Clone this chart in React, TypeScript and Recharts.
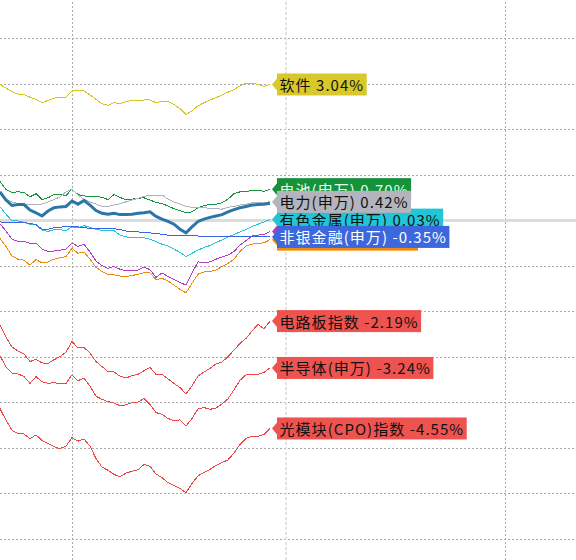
import { LineChart, Line, XAxis, YAxis, ReferenceLine } from 'recharts';

// intraday % change, one point every ~2 min (left part of the session cut off)
const software = [3.00, 2.92, 2.84, 2.79, 2.78, 2.72, 2.67, 2.60, 2.65, 2.70, 2.72, 2.72, 2.86, 2.87, 2.86, 2.77, 2.67, 2.58, 2.54, 2.60, 2.58, 2.62, 2.65, 2.64, 2.66, 2.66, 2.60, 2.63, 2.63, 2.56, 2.47, 2.34, 2.42, 2.53, 2.60, 2.66, 2.71, 2.77, 2.83, 2.89, 2.97, 3.03, 3.03, 3.00, 2.96, 3.00];
const battery = [0.87, 0.69, 0.63, 0.64, 0.63, 0.53, 0.60, 0.47, 0.51, 0.58, 0.58, 0.56, 0.70, 0.58, 0.55, 0.54, 0.54, 0.52, 0.47, 0.58, 0.52, 0.46, 0.48, 0.50, 0.51, 0.46, 0.41, 0.38, 0.33, 0.27, 0.23, 0.18, 0.20, 0.29, 0.34, 0.36, 0.37, 0.40, 0.48, 0.60, 0.64, 0.65, 0.67, 0.68, 0.65, 0.70];
const power = [0.59, 0.48, 0.42, 0.38, 0.37, 0.37, 0.37, 0.37, 0.42, 0.47, 0.53, 0.64, 0.70, 0.57, 0.48, 0.42, 0.37, 0.32, 0.32, 0.35, 0.38, 0.42, 0.46, 0.50, 0.54, 0.57, 0.57, 0.57, 0.48, 0.42, 0.37, 0.32, 0.30, 0.30, 0.29, 0.28, 0.27, 0.26, 0.30, 0.32, 0.35, 0.37, 0.40, 0.41, 0.41, 0.42];
const benchmark = [0.64, 0.46, 0.34, 0.36, 0.36, 0.24, 0.18, 0.11, 0.22, 0.29, 0.31, 0.32, 0.44, 0.37, 0.45, 0.35, 0.23, 0.17, 0.15, 0.17, 0.14, 0.14, 0.15, 0.17, 0.18, 0.20, 0.10, 0.04, -0.01, -0.07, -0.18, -0.26, -0.13, -0.01, 0.04, 0.08, 0.11, 0.14, 0.20, 0.25, 0.29, 0.32, 0.35, 0.36, 0.37, 0.39];
const metals = [0.31, 0.15, 0.00, 0.00, -0.03, -0.07, -0.09, -0.20, -0.23, -0.19, -0.19, -0.21, -0.13, -0.15, -0.10, -0.14, -0.18, -0.21, -0.21, -0.21, -0.31, -0.35, -0.37, -0.37, -0.37, -0.40, -0.45, -0.51, -0.55, -0.62, -0.69, -0.78, -0.71, -0.64, -0.58, -0.54, -0.47, -0.42, -0.35, -0.30, -0.24, -0.19, -0.12, -0.07, -0.02, 0.03];
const nonBank = [-0.02, -0.03, -0.04, -0.04, -0.04, -0.05, -0.08, -0.18, -0.18, -0.15, -0.14, -0.12, -0.11, -0.13, -0.15, -0.16, -0.16, -0.16, -0.17, -0.17, -0.19, -0.22, -0.23, -0.24, -0.25, -0.26, -0.28, -0.29, -0.31, -0.32, -0.32, -0.32, -0.32, -0.33, -0.33, -0.33, -0.33, -0.34, -0.35, -0.34, -0.34, -0.33, -0.33, -0.34, -0.35, -0.35];
const purpleSeries = [-0.06, -0.22, -0.40, -0.45, -0.45, -0.49, -0.49, -0.62, -0.67, -0.66, -0.64, -0.62, -0.48, -0.56, -0.51, -0.68, -0.88, -0.98, -1.04, -1.00, -1.06, -1.10, -1.08, -1.08, -1.01, -1.07, -1.24, -1.14, -1.22, -1.29, -1.35, -1.41, -1.14, -0.90, -0.91, -0.90, -0.84, -0.79, -0.75, -0.67, -0.53, -0.43, -0.33, -0.31, -0.30, -0.23];
const orangeSeries = [-0.38, -0.56, -0.77, -0.84, -0.86, -0.97, -0.85, -0.92, -0.90, -0.84, -0.81, -0.78, -0.60, -0.71, -0.68, -0.84, -1.02, -1.11, -1.18, -1.18, -1.21, -1.22, -1.20, -1.17, -1.14, -1.14, -1.29, -1.26, -1.32, -1.41, -1.50, -1.58, -1.37, -1.17, -1.12, -1.11, -1.08, -1.00, -0.93, -0.84, -0.67, -0.55, -0.51, -0.49, -0.48, -0.41];
const pcb = [-2.29, -2.55, -2.77, -2.86, -2.92, -3.09, -3.04, -3.12, -3.13, -3.05, -2.98, -2.88, -2.65, -2.79, -2.78, -2.90, -3.09, -3.20, -3.31, -3.32, -3.41, -3.45, -3.40, -3.37, -3.29, -3.22, -3.37, -3.37, -3.47, -3.57, -3.66, -3.80, -3.62, -3.41, -3.32, -3.24, -3.14, -3.10, -2.98, -2.84, -2.69, -2.58, -2.42, -2.27, -2.37, -2.20];
const semis = [-2.96, -3.21, -3.34, -3.36, -3.42, -3.57, -3.42, -3.53, -3.57, -3.55, -3.58, -3.57, -3.38, -3.51, -3.45, -3.63, -3.85, -3.92, -3.97, -4.00, -4.06, -4.04, -3.99, -3.98, -3.90, -4.03, -4.21, -4.25, -4.34, -4.39, -4.37, -4.51, -4.34, -4.13, -4.10, -4.14, -4.11, -4.02, -3.91, -3.71, -3.50, -3.38, -3.37, -3.37, -3.33, -3.23];
const cpo = [-4.12, -4.38, -4.60, -4.67, -4.68, -4.79, -4.70, -4.82, -4.89, -4.96, -5.00, -4.95, -4.76, -4.84, -4.79, -4.95, -5.22, -5.41, -5.48, -5.57, -5.62, -5.54, -5.50, -5.47, -5.35, -5.39, -5.56, -5.64, -5.75, -5.81, -5.88, -5.97, -5.77, -5.60, -5.53, -5.46, -5.37, -5.31, -5.25, -5.10, -4.91, -4.78, -4.73, -4.73, -4.69, -4.56];

const names = ['软件', '电池(申万)', '电力(申万)', '有色金属(申万)', '非银金融(申万)', '电路板指数', '半导体(申万)', '光模块(CPO)指数'];
const lastPct = ['3.04%', '0.70%', '0.42%', '0.03%', '-0.35%', '-2.19%', '-3.24%', '-4.55%'];

const yGrid = [4, 3, 2, 1, -1, -2, -3, -4, -5, -6, -7];
const xGrid = [12.12, 84.27];
const xNow = 47.67;

const rows = software.map((_, i) => ({
  i,
  software: software[i],
  battery: battery[i],
  power: power[i],
  benchmark: benchmark[i],
  metals: metals[i],
  nonBank: nonBank[i],
  purple: purpleSeries[i],
  orange: orangeSeries[i],
  pcb: pcb[i],
  semis: semis[i],
  cpo: cpo[i],
}));
const LAST = rows.length - 1;

const FONT = '"Microsoft YaHei", "Noto Sans CJK SC", sans-serif';
const FS = 15;
const LS = 1.05;
let ctx: CanvasRenderingContext2D | null = null;
function textWidth(s: string) {
  if (!ctx) ctx = document.createElement('canvas').getContext('2d');
  if (!ctx) return s.length * 10;
  ctx.font = `${FS}px ${FONT}`;
  return ctx.measureText(s).width + s.length * LS;
}

// draw order = stacking order of the tags
const series = [
  { key: 'cpo', color: '#ee4646', tag: 0, bg: '#ef5350', fg: '#111', label: 7 },
  { key: 'semis', color: '#ee4646', tag: 0, bg: '#ef5350', fg: '#111', label: 6 },
  { key: 'pcb', color: '#ee4646', tag: 0, bg: '#ef5350', fg: '#111', label: 5 },
  { key: 'orange', color: '#f08a08', tag: 141, bg: '#f08a08', fg: '#111', label: -1 },
  { key: 'purple', color: '#b53ac2', tag: 166, bg: '#b53ac2', fg: '#111', label: -1 },
  { key: 'metals', color: '#26c2d8', tag: 0, bg: '#22c4d8', fg: '#111', label: 3 },
  { key: 'nonBank', color: '#3a66df', tag: 0, bg: '#3d67dd', fg: '#fff', label: 4 },
  { key: 'battery', color: '#17923e', tag: 0, bg: '#16913c', fg: '#e8ffe8', label: 1 },
  { key: 'power', color: '#b0b0ba', tag: 0, bg: '#b4b4be', fg: '#111', label: 2 },
  { key: 'benchmark', color: '#2a76a6', tag: -1, bg: '', fg: '', label: -1, width: 3 },
  { key: 'software', color: '#d6c520', tag: 0, bg: '#d8c82c', fg: '#111', label: 0 },
];

function Tag({ x, y, text, bg, fg, w }: { x: number; y: number; text: string; bg: string; fg: string; w: number }) {
  const boxW = w > 0 ? w : textWidth(text) + 5;
  return (
    <g>
      <path d={`M${x + 2},${y} L${x + 7},${y - 6} L${x + 7},${y + 6} Z`} fill={bg} />
      <rect x={x + 7} y={y - 11} width={boxW} height={22} fill={bg} />
      {text && (
        <text
          x={x + 9.5}
          y={y}
          dominantBaseline="central"
          fontSize={FS}
          letterSpacing={LS}
          fontFamily={FONT}
          fill={fg}
        >
          {text}
        </text>
      )}
    </g>
  );
}

export default function App() {
  return (
    <div style={{ position: 'absolute', left: 0, top: 0, background: '#fff' }}>
      <LineChart width={576} height={560} data={rows} margin={{ top: 0, right: 0, bottom: 0, left: 0 }}>
        <XAxis type="number" dataKey="i" domain={[0, 96]} hide allowDataOverflow />
        <YAxis type="number" domain={[-7.451, 4.857]} hide width={0} allowDataOverflow />
        {yGrid.map((v) => (
          <ReferenceLine key={`y${v}`} y={v} stroke="#a9a9a9" strokeDasharray="2 2" shapeRendering="crispEdges" />
        ))}
        {xGrid.map((v) => (
          <ReferenceLine key={`x${v}`} x={v} stroke="#a9a9a9" strokeDasharray="2 2" shapeRendering="crispEdges" />
        ))}
        <ReferenceLine x={xNow} stroke="#e2e2e2" strokeWidth={2} strokeDasharray="3 2" shapeRendering="crispEdges" />
        <ReferenceLine y={0} stroke="#dcdcdc" strokeWidth={3} shapeRendering="crispEdges" />
        {series.map((s) => (
          <Line
            key={s.key}
            dataKey={s.key}
            type="linear"
            stroke={s.color}
            strokeWidth={s.width ?? 1}
            shapeRendering={s.width ? undefined : 'crispEdges'}
            isAnimationActive={false}
            activeDot={false}
            dot={(p: any) => {
              if (p.index !== LAST || s.tag < 0) return <g key={p.key ?? `d${s.key}${p.index}`} />;
              const text = s.label >= 0 ? `${names[s.label]} ${lastPct[s.label]}` : '';
              return (
                <Tag key={`tag-${s.key}`} x={p.cx} y={p.cy} text={text} bg={s.bg} fg={s.fg} w={s.tag} />
              );
            }}
          />
        ))}
      </LineChart>
    </div>
  );
}
